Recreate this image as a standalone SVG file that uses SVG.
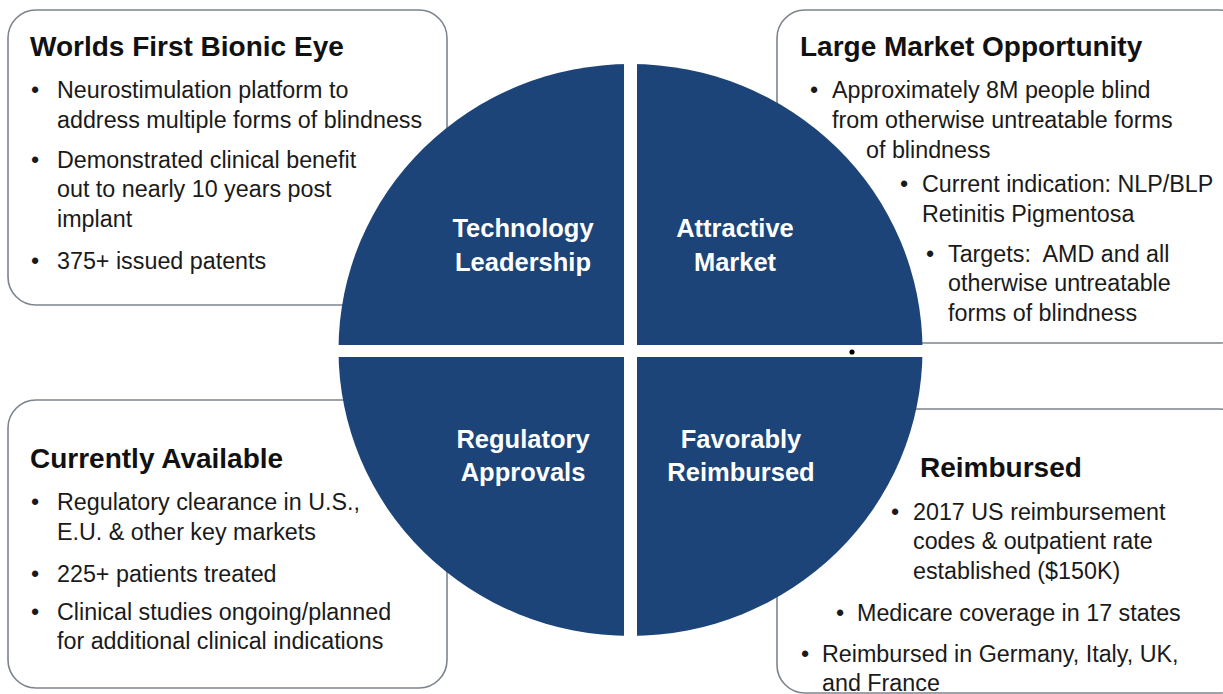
<svg xmlns="http://www.w3.org/2000/svg" width="1223" height="694" viewBox="0 0 1223 694">
<defs>
<style>
.box{fill:#ffffff;stroke:#7d848e;stroke-width:1.6}
.q{fill:#1c4478}
.t{font-family:"Liberation Sans",Arial,sans-serif;font-weight:bold;font-size:28px;fill:#111111}
.b{font-family:"Liberation Sans",Arial,sans-serif;font-size:23.3px;fill:#1a1a1a}
.l{font-family:"Liberation Sans",Arial,sans-serif;font-weight:bold;font-size:25.5px;fill:#ffffff;text-anchor:middle}
</style>
<clipPath id="circ"><ellipse cx="630.5" cy="350" rx="292" ry="286"/></clipPath>
</defs>
<rect width="1223" height="694" fill="#ffffff"/>

<g id="box-tl">
<rect class="box" x="8" y="10" width="439" height="295" rx="28"/>
<text class="t" x="30" y="56">Worlds First Bionic Eye</text>
<text class="b" x="31" y="98">•</text>
<text class="b" x="57" y="98">Neurostimulation platform to</text>
<text class="b" x="57" y="128">address multiple forms of blindness</text>
<text class="b" x="31" y="168">•</text>
<text class="b" x="57" y="168">Demonstrated clinical benefit</text>
<text class="b" x="57" y="197">out to nearly 10 years post</text>
<text class="b" x="57" y="227">implant</text>
<text class="b" x="31" y="269">•</text>
<text class="b" x="57" y="269">375+ issued patents</text>
</g>

<g id="box-tr">
<rect class="box" x="777" y="10" width="470" height="333" rx="28"/>
<text class="t" x="800" y="56">Large Market Opportunity</text>
<text class="b" x="810" y="98">•</text>
<text class="b" x="832" y="98">Approximately 8M people blind</text>
<text class="b" x="832" y="128">from otherwise untreatable forms</text>
<text class="b" x="866" y="158">of blindness</text>
<text class="b" x="900" y="192">•</text>
<text class="b" x="922" y="192">Current indication: NLP/BLP</text>
<text class="b" x="922" y="222">Retinitis Pigmentosa</text>
<text class="b" x="926" y="262">•</text>
<text class="b" x="948" y="262" xml:space="preserve">Targets:  AMD and all</text>
<text class="b" x="948" y="291">otherwise untreatable</text>
<text class="b" x="948" y="321">forms of blindness</text>
</g>

<g id="box-bl">
<rect class="box" x="8" y="400" width="439" height="288" rx="28"/>
<text class="t" x="30" y="468">Currently Available</text>
<text class="b" x="31" y="510">•</text>
<text class="b" x="57" y="510">Regulatory clearance in U.S.,</text>
<text class="b" x="57" y="540">E.U. &amp; other key markets</text>
<text class="b" x="31" y="582">•</text>
<text class="b" x="57" y="582">225+ patients treated</text>
<text class="b" x="31" y="620">•</text>
<text class="b" x="57" y="620">Clinical studies ongoing/planned</text>
<text class="b" x="57" y="649">for additional clinical indications</text>
</g>

<g id="box-br">
<rect class="box" x="777" y="409" width="470" height="284" rx="28"/>
<text class="t" x="920" y="477">Reimbursed</text>
<text class="b" x="891" y="520">•</text>
<text class="b" x="913" y="520">2017 US reimbursement</text>
<text class="b" x="913" y="549">codes &amp; outpatient rate</text>
<text class="b" x="913" y="579">established ($150K)</text>
<text class="b" x="836" y="621">•</text>
<text class="b" x="857" y="621">Medicare coverage in 17 states</text>
<text class="b" x="801" y="662">•</text>
<text class="b" x="822" y="662">Reimbursed in Germany, Italy, UK,</text>
<text class="b" x="822" y="691">and France</text>
</g>

<g id="quadrants" clip-path="url(#circ)">
<g id="q-technology"><rect class="q" x="330" y="55" width="294" height="290"/></g>
<g id="q-market"><rect class="q" x="637" y="55" width="295" height="290"/></g>
<g id="q-regulatory"><rect class="q" x="330" y="357" width="294" height="290"/></g>
<g id="q-reimbursed"><rect class="q" x="637" y="357" width="295" height="290"/></g>
</g>

<g id="labels">
<text class="l" x="523" y="237">Technology</text>
<text class="l" x="523" y="271">Leadership</text>
<text class="l" x="735" y="237">Attractive</text>
<text class="l" x="735" y="271">Market</text>
<text class="l" x="523" y="448">Regulatory</text>
<text class="l" x="523" y="481">Approvals</text>
<text class="l" x="741" y="448">Favorably</text>
<text class="l" x="741" y="481">Reimbursed</text>
</g>

<circle cx="852" cy="352" r="2.6" fill="#000000"/>
<g id="connectors"></g>
</svg>
